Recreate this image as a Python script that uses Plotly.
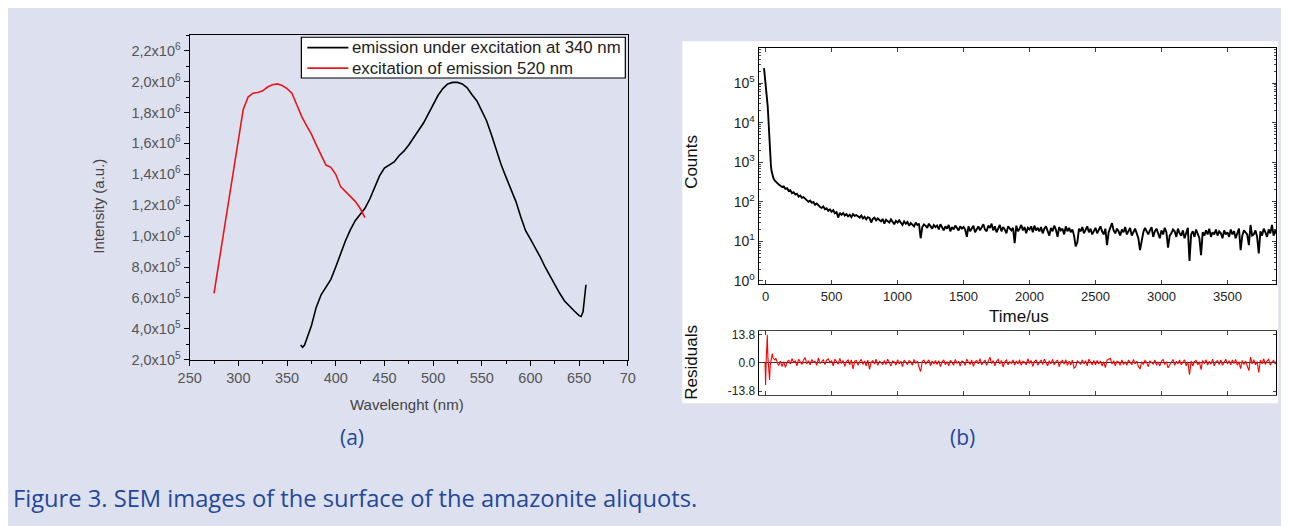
import plotly.graph_objects as go

# ---------------- Panel (a): photoluminescence spectra ----------------
ex_wl = [275, 280, 285, 290, 295, 300, 305, 310, 315, 320, 325, 330, 335, 340, 345, 350,
         355, 360, 365, 370, 375, 380, 385, 390, 395, 400, 405, 410, 415, 420, 425, 430]
ex_int = [6.3e5, 8.3e5, 1.03e6, 1.25e6, 1.45e6, 1.65e6, 1.82e6, 1.90e6, 1.925e6, 1.93e6,
          1.94e6, 1.965e6, 1.98e6, 1.985e6, 1.975e6, 1.955e6, 1.925e6, 1.85e6, 1.775e6,
          1.715e6, 1.66e6, 1.59e6, 1.52e6, 1.46e6, 1.445e6, 1.40e6, 1.32e6, 1.29e6,
          1.255e6, 1.225e6, 1.18e6, 1.12e6]

em_wl = [364, 366, 368, 370, 375, 380, 385, 390, 395, 400, 405, 410, 415, 420, 425, 430,
         435, 440, 445, 450, 455, 460, 465, 470, 475, 480, 485, 490, 495, 500, 505, 510,
         515, 520, 525, 530, 535, 540, 545, 550, 555, 560, 565, 570, 575, 580, 585, 590,
         595, 600, 605, 610, 615, 620, 625, 630, 635, 640, 645, 650, 652, 654, 655, 656, 657]
em_int = [2.95e5, 2.8e5, 2.95e5, 3.3e5, 4.2e5, 5.4e5, 6.2e5, 6.7e5, 7.2e5, 8.0e5, 8.9e5,
          9.7e5, 1.04e6, 1.10e6, 1.14e6, 1.18e6, 1.24e6, 1.31e6, 1.39e6, 1.44e6, 1.46e6,
          1.48e6, 1.52e6, 1.55e6, 1.59e6, 1.635e6, 1.68e6, 1.73e6, 1.79e6, 1.85e6, 1.91e6,
          1.955e6, 1.985e6, 1.995e6, 1.995e6, 1.985e6, 1.96e6, 1.915e6, 1.875e6, 1.81e6,
          1.745e6, 1.655e6, 1.55e6, 1.46e6, 1.38e6, 1.305e6, 1.225e6, 1.125e6, 1.035e6,
          9.8e5, 9.25e5, 8.65e5, 8.0e5, 7.4e5, 6.9e5, 6.3e5, 5.8e5, 5.45e5, 5.15e5, 4.85e5,
          4.8e5, 5.1e5, 5.6e5, 6.3e5, 6.85e5]

legend_names = ["emission under excitation at 340 nm", "excitation of emission 520 nm"]
legend_colors = ["black", "#E8161B"]

a_yticks = [2e5, 4e5, 6e5, 8e5, 1e6, 1.2e6, 1.4e6, 1.6e6, 1.8e6, 2.0e6, 2.2e6]
a_ytext = ["2,0x10<sup>5</sup>", "4,0x10<sup>5</sup>", "6,0x10<sup>5</sup>", "8,0x10<sup>5</sup>",
           "1,0x10<sup>6</sup>", "1,2x10<sup>6</sup>", "1,4x10<sup>6</sup>", "1,6x10<sup>6</sup>",
           "1,8x10<sup>6</sup>", "2,0x10<sup>6</sup>", "2,2x10<sup>6</sup>"]
a_xticks = [250, 300, 350, 400, 450, 500, 550, 600, 650, 700]
a_xtext = ["250", "300", "350", "400", "450", "500", "550", "600", "650", "70"]

# ---------------- Panel (b): luminescence decay ----------------
t_early = [-12, -8, -4, 0, 4, 8, 12, 16, 20, 25, 30, 35, 40, 45, 50, 55, 60, 70, 80, 90]
counts_early = [2.4e5, 1.8e5, 1.4e5, 1.15e5, 8e4, 5.5e4, 3.8e4, 2.6e4, 1.5e4, 6500, 2800,
                1400, 850, 600, 500, 430, 390, 340, 310, 285]
# channels every 12.5 us starting at 100 us
counts_main = [
    272, 255, 238, 245, 212, 220, 188, 196, 166, 175, 152, 160, 136, 145, 126, 132,
    118, 110, 100, 107, 94, 99, 84, 91, 80, 74, 70, 76, 65, 69, 59, 64,
    56, 62, 51, 55, 40, 53, 47, 52, 45, 49, 43, 47, 41, 49, 44, 46,
    43, 40, 45, 38, 42, 36, 41, 39, 30, 37, 40, 34, 38, 35, 32, 37,
    28, 35, 33, 30, 36, 31, 27, 33, 30, 34, 29, 26, 32, 28, 31, 25,
    29, 27, 24, 30, 26, 28, 12, 23, 27, 25, 22, 28, 24, 21, 26, 23,
    25, 20, 27, 22, 19, 24, 21, 26, 18, 23, 20, 25, 22, 19, 24, 21,
    23, 20, 13, 24, 18, 22, 25, 17, 21, 24, 19, 23, 27, 20, 18, 25,
    22, 28, 19, 24, 17, 21, 26, 18, 23, 20, 16, 24, 21, 19, 22, 9,
    25, 18, 21, 26, 19, 23, 16, 22, 20, 24, 17, 25, 19, 22, 18, 23,
    16, 21, 24, 19, 14, 22, 18, 25, 20, 13, 23, 19, 21, 15, 24, 18,
    22, 17, 20, 14, 7.5, 9.5, 21, 18, 23, 16, 20, 24, 17, 21, 15, 19,
    22, 16, 19, 24, 18, 15, 21, 8, 17, 23, 29, 19, 16, 21, 18, 14,
    20, 17, 23, 15, 19, 22, 14, 18, 21, 16, 12, 6, 11, 17, 22, 18,
    15, 19, 23, 13, 18, 21, 16, 12, 19, 15, 22, 17, 7, 14, 16, 20,
    18, 13, 21, 16, 14, 19, 12, 17, 22, 3.2, 15, 18, 13, 20, 16, 12,
    4.5, 17, 14, 19, 15, 21, 13, 17, 15, 20, 14, 18, 16, 12, 19, 15,
    17, 13, 20, 15, 18, 12, 16, 21, 6, 14, 19, 17, 15, 8, 26, 14,
    15, 19, 13, 5, 18, 14, 21, 17, 13, 20, 16, 26, 14, 19, 15, 17]
t_main = [100 + 12.5 * i for i in range(len(counts_main))]

t_res_early = [-4, 0, 5, 10, 13, 17, 22, 27, 30, 35, 40, 45, 51, 56, 62, 70, 78, 86, 94]
res_early = [0, -10.8, 2, 8, 13.7, 3, -4, -6, -8.4, -1, 1, 2.5, 4.5, 2.5, 2, 1.5, 2.2, 0.5, -0.8]
res_main = [
    -1.2, 0.9, -1.8, 0.6, -2.2, 0.3, 1.4, -0.6, 2.1, 0.2, 0.9, -1.4, 1.8, 0.5, -0.8, 1.5,
    2.6, -0.5, 1.1, -0.9, 1.7, 0.3, 0.8, -1.2, 2.4, -0.3, 0.6, 1.5, -0.8, 1.4, 2.0, 0.2,
    0.9, -1.4, 1.8, 0.5, -0.6, 2.2, -0.3, 1.1, -1.7, 0.6, 1.4, -0.9, 1.5, -3.0, 0.8, 1.2,
    -1.1, 0.5, 1.7, -0.8, 0.9, -1.4, 1.4, -3.2, 0.3, 1.1, -0.6, 1.8, -1.2, 0.8, 0.2, -0.9,
    1.2, -0.8, 1.8, 0.2, -1.5, 0.9, 0.5, -1.1, 1.5, -0.5, 0.8, -1.8, 1.4, 0.3, -0.9, 1.1,
    0.6, -1.2, 1.7, -0.3, 0.9, -2.0, -4.2, 0.8, 1.4, -0.6, 0.3, 1.5, -1.4, 0.9, -0.5, 1.2,
    -0.8, 1.1, -1.8, 0.5, 1.5, -0.9, 0.6, -1.4, 1.2, 0.2, -1.1, 1.7, -0.3, 0.8, -1.5, 0.9,
    0.5, -1.2, 1.8, 0.3, -0.8, 1.4, -1.7, 0.6, 1.1, -0.5, 2.0, -0.9, 0.3, 1.4, -1.2, 0.8,
    2.8, -0.3, 1.1, -1.4, 0.8, 1.7, -0.6, 1.2, -2.0, 0.5, 1.4, -0.9, 0.6, -0.3, 1.5, -1.1,
    0.9, -0.6, 1.5, -1.2, 0.8, 0.3, -0.9, 2.0, -0.3, 1.2, -1.7, 0.6, 1.5, -1.1, 0.5, 1.4,
    -0.8, 1.8, 0.2, -1.4, 1.1, -0.5, 1.7, -0.9, 0.6, 1.4, -1.8, 0.5, 1.2, -0.6, 1.5, -1.2,
    0.8, -1.1, 1.4, -2.6, -1.9, 0.9, 0.3, -0.8, 1.5, -0.5, 1.1, -1.4, 1.8, 0.2, -0.9, 1.2,
    -0.9, 1.2, -0.5, 0.9, -1.5, 0.6, -2.3, 1.4, 1.7, 2.2, -0.6, 1.1, -1.4, 0.8, 0.3, -1.1,
    1.5, -0.8, 0.6, -1.2, 1.4, 0.3, -0.9, 1.7, -0.5, 0.8, -1.8, -3.0, 0.6, -0.8, 1.2, 0.2,
    -1.8, 0.9, 0.2, -0.6, 1.4, -1.1, 0.5, -1.5, 0.9, 1.7, -0.8, 0.6, -2.4, -1.2, 0.5, 1.7,
    -1.2, 0.8, -0.5, 1.4, -0.9, 0.3, 1.5, -1.4, 0.6, -5.8, 0.9, -1.5, 0.6, 1.2, -0.9, 0.5,
    -3.3, 1.2, -0.3, 1.5, -1.1, 0.8, -0.6, 1.8, -1.4, 0.5, 1.1, -0.8, 1.5, -1.2, 0.6, 1.8,
    -0.6, 1.1, -0.9, 1.4, -0.3, 1.7, -1.2, 0.5, -2.8, 1.2, -0.8, 0.9, -1.5, -3.8, 2.8, -0.5,
    1.5, -0.9, 0.6, -4.7, 1.4, -0.5, 2.0, -0.8, 0.9, 1.7, -1.1, 0.5, 1.2, -0.6, 1.8, 0.5]
t_res_main = [100 + 12.5 * i for i in range(len(res_main))]

b_xticks = [0, 500, 1000, 1500, 2000, 2500, 3000, 3500]
b_yticks = [1, 10, 100, 1000, 10000, 100000]
b_ytext = ["10<sup>0</sup>", "10<sup>1</sup>", "10<sup>2</sup>", "10<sup>3</sup>",
           "10<sup>4</sup>", "10<sup>5</sup>"]
b_yminor = [m * d for d in [1, 10, 100, 1000, 10000, 100000] for m in range(2, 10)]
r_yticks = [-13.8, 0, 13.8]
r_ytext = ["-13.8", "0.0", "13.8"]

W, H = 1289, 526
BG = "#DDE0EE"
BLUE = "#23489A"
AF = "Liberation Sans, Arial, sans-serif"

# calibration: screen = S*figure + O  (positions below are given in screen pixels)
SX, OX, SY, OY = 0.9846, 18.6, 0.9847, 8.6

def px(s):
    return ((s - OX) / SX) / W

def py(s):
    return 1 - ((s - OY) / SY) / H

fig = go.Figure()

fig.add_trace(go.Scatter(x=em_wl, y=em_int, mode="lines", name=legend_names[0],
                         line=dict(color=legend_colors[0], width=1.6), xaxis="x", yaxis="y"))
fig.add_trace(go.Scatter(x=ex_wl, y=ex_int, mode="lines", name=legend_names[1],
                         line=dict(color=legend_colors[1], width=1.6), xaxis="x", yaxis="y"))

fig.add_trace(go.Scatter(x=t_early + t_main, y=counts_early + counts_main, mode="lines",
                         line=dict(color="black", width=1.9), name="decay",
                         xaxis="x2", yaxis="y2"))
fig.add_trace(go.Scatter(x=t_res_early + t_res_main, y=res_early + res_main, mode="lines",
                         line=dict(color="#FF0000", width=1.1), name="residuals",
                         xaxis="x3", yaxis="y3"))

axis_a = dict(showline=True, linecolor="black", linewidth=1.3, mirror=True, showgrid=False,
              zeroline=False, ticks="outside", ticklen=5, tickcolor="black", tickwidth=1.2,
              tickfont=dict(family=AF, size=14.5, color="#555555"))

fig.update_layout(
    width=W, height=H, margin=dict(l=0, r=0, t=0, b=0),
    paper_bgcolor=BG, plot_bgcolor="rgba(0,0,0,0)",
    font=dict(family=AF),
    showlegend=False,
    xaxis=dict(domain=[px(188.3), px(626.5)], range=[250, 700], anchor="y",
               tickmode="array", tickvals=a_xticks, ticktext=a_xtext,
               minor=dict(dtick=25, tick0=250, ticks="outside", ticklen=3, tickcolor="black"),
               **axis_a),
    yaxis=dict(domain=[py(359.3), py(33)], range=[2e5, 2.3e6], anchor="x",
               tickmode="array", tickvals=a_yticks, ticktext=a_ytext,
               minor=dict(dtick=1e5, tick0=2e5, ticks="outside", ticklen=3, tickcolor="black"),
               **axis_a),
    xaxis2=dict(domain=[px(757.3), px(1275)], range=[-53, 3870], anchor="y2",
                tickmode="array", tickvals=b_xticks, ticks="inside", ticklen=4,
                showline=True, linecolor="black", linewidth=1, mirror="ticks",
                showgrid=False, zeroline=False,
                tickfont=dict(family=AF, size=13, color="#222222")),
    yaxis2=dict(domain=[py(283.3), py(45.7)], type="log", range=[-0.08, 5.89], anchor="x2",
                tickmode="array", tickvals=b_yticks, ticktext=b_ytext, ticks="inside", ticklen=4,
                minor=dict(tickmode="array", tickvals=b_yminor, ticks="inside", ticklen=2,
                           tickcolor="#444444"),
                showline=True, linecolor="black", linewidth=1, mirror="ticks",
                showgrid=False, zeroline=False,
                tickfont=dict(family=AF, size=14, color="#222222")),
    xaxis3=dict(domain=[px(757.3), px(1275)], range=[-53, 3870], anchor="y3",
                tickmode="array", tickvals=b_xticks, showticklabels=False,
                ticks="inside", ticklen=4,
                showline=True, linecolor="#444444", linewidth=1.2, mirror="ticks",
                showgrid=False, zeroline=False),
    yaxis3=dict(domain=[py(395), py(330)], range=[-15.8, 15.8], anchor="x3",
                tickmode="array", tickvals=r_yticks, ticktext=r_ytext, ticks="inside", ticklen=3,
                showline=True, linecolor="black", linewidth=1, mirror="ticks",
                showgrid=False, zeroline=True, zerolinecolor="#333333", zerolinewidth=1,
                tickfont=dict(family=AF, size=12, color="#222222")),
)

# white card behind panel (b)
fig.add_shape(type="rect", xref="paper", yref="paper", x0=px(681), x1=px(1277),
              y0=py(403), y1=py(39), fillcolor="white", line=dict(width=0), layer="below")

# legend box of panel (a)
fig.add_shape(type="rect", xref="paper", yref="paper", x0=px(300), x1=px(624),
              y0=py(76), y1=py(35), fillcolor="white", line=dict(color="black", width=1.2),
              layer="above")
for i, (nm, col) in enumerate(zip(legend_names, legend_colors)):
    yy = [45.5, 66][i]
    fig.add_shape(type="line", xref="paper", yref="paper", x0=px(306), x1=px(347),
                  y0=py(yy), y1=py(yy), line=dict(color=col, width=1.8), layer="above")
    fig.add_annotation(xref="paper", yref="paper", x=px(349), y=py(yy), text=nm,
                       showarrow=False, xanchor="left", yanchor="middle",
                       font=dict(family=AF, size=16.8, color="#222222"))

ann = [
    dict(text="Intensity (a.u.)", x=px(97), y=py(205), textangle=-90,
         font=dict(family=AF, size=15, color="#444444")),
    dict(text="Wavelenght (nm)", x=px(406), y=py(404),
         font=dict(family=AF, size=15, color="#444444")),
    dict(text="Counts", x=px(690), y=py(160), textangle=-90,
         font=dict(family=AF, size=17, color="#111111")),
    dict(text="Time/us", x=px(1018), y=py(316),
         font=dict(family=AF, size=17, color="#111111")),
    dict(text="Residuals", x=px(690), y=py(362), textangle=-90,
         font=dict(family=AF, size=17, color="#111111")),
    dict(text="(a)", x=px(351), y=py(437),
         font=dict(family="Open Sans, sans-serif", size=21, color=BLUE)),
    dict(text="(b)", x=px(961), y=py(437),
         font=dict(family="Open Sans, sans-serif", size=21, color=BLUE)),
    dict(text="Figure 3. SEM images of the surface of the amazonite aliquots.",
         x=px(10), y=py(498), xanchor="left",
         font=dict(family="Open Sans, sans-serif", size=23.7, color=BLUE)),
]
for a in ann:
    a.setdefault("xanchor", "center")
    fig.add_annotation(xref="paper", yref="paper", showarrow=False, yanchor="middle", **a)

fig.write_html("out.html")
